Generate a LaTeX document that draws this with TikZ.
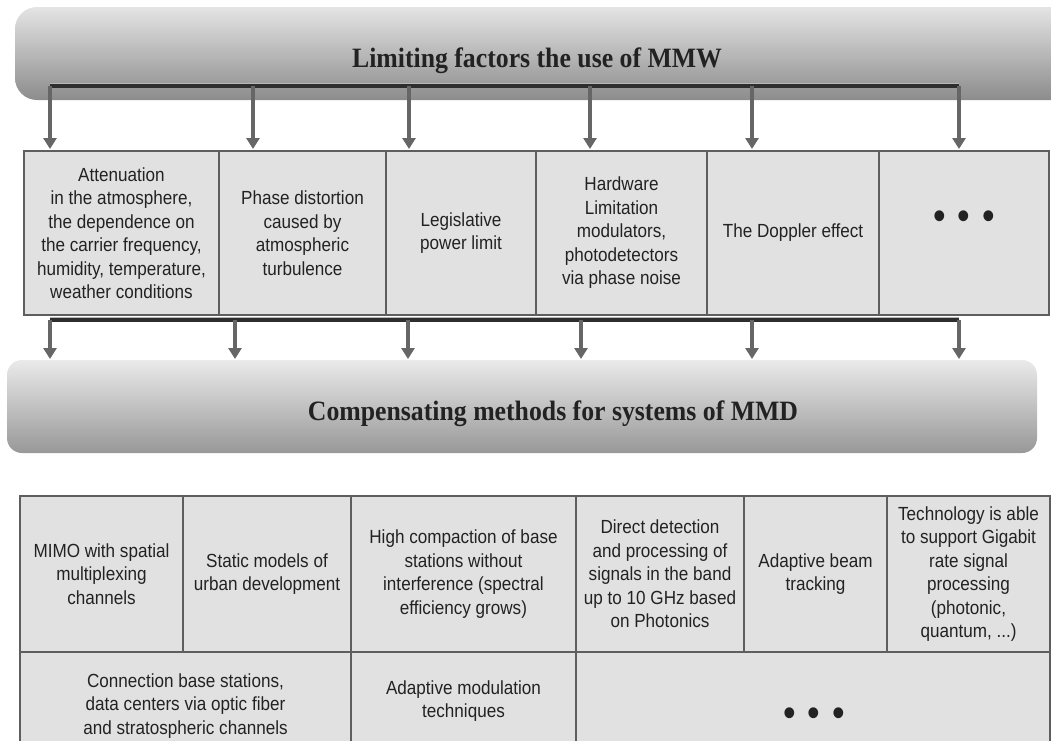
\documentclass[tikz,border=0pt]{standalone}
\usepackage{fontspec}
\setmainfont{Liberation Sans}[FakeStretch=0.9]
\newfontfamily\titlefont{Liberation Serif}[FakeStretch=0.92]
\usetikzlibrary{arrows.meta}
\definecolor{cellfill}{HTML}{E1E1E1}
\definecolor{cellline}{HTML}{5E5E5E}
\definecolor{arrowgray}{HTML}{666666}
\definecolor{bardark}{HTML}{2E2E2E}
\definecolor{barlight}{HTML}{B8B8B8}
\definecolor{txt}{HTML}{222222}
\definecolor{topbanlight}{HTML}{E4E4E4}
\definecolor{topbandark}{HTML}{8C8C8C}
\definecolor{midbanlight}{HTML}{EAEAEA}
\definecolor{midbandark}{HTML}{989898}
\begin{document}
\begin{tikzpicture}[x=1pt,y=-1pt,
  cell/.style={draw=cellline, fill=cellfill, line width=1.1pt, inner sep=2pt,
    outer sep=0pt, align=center, anchor=north west, text=txt,
    font=\fontsize{19}{23.5}\selectfont},
  banner/.style={shade, anchor=north west, inner sep=0pt, outer sep=0pt},
  bannertitle/.style={anchor=base, text=txt,
    font=\titlefont\bfseries\fontsize{28}{30}\selectfont},
  dots/.style={text=txt, inner sep=0pt, font=\fontsize{40}{40}\selectfont},
  arr/.style={draw=arrowgray, line width=3.2pt,
    -{Triangle[width=13pt,length=11pt]}},
  barline/.style={line width=4pt, bardark},
  barhigh/.style={line width=1.6pt, barlight}
]
\clip (0,0) rectangle (1051,740);

% ---------- top banner ----------
\node[banner, top color=topbanlight, bottom color=topbandark,
  rounded corners=22pt, minimum width=1080pt, minimum height=93pt]
  (limban) at (15,7) {};
\node[bannertitle] (limtitle) at (537,67) {Limiting factors the use of MMW};

% ---------- table 1 ----------
\node[cell, minimum width=195pt, minimum height=164pt] (t1) at (24,151)
  {Attenuation\\in the atmosphere,\\the dependence on\\the carrier frequency,\\humidity, temperature,\\weather conditions};
\node[cell, minimum width=167pt, minimum height=164pt] (t2) at (219,151)
  {Phase distortion\\caused by\\atmospheric\\turbulence};
\node[cell, minimum width=150pt, minimum height=164pt] (t3) at (386,151)
  {Legislative\\power limit};
\node[cell, minimum width=171pt, minimum height=164pt] (t4) at (536,151)
  {Hardware\\Limitation\\modulators,\\photodetectors\\via phase noise};
\node[cell, minimum width=172pt, minimum height=164pt] (t5) at (707,151)
  {The Doppler effect};
\node[cell, minimum width=170pt, minimum height=164pt] (t6) at (879,151) {};
\node[dots] (t6dots) at (964,220) {•\hspace{12pt}•\hspace{12pt}•};

% ---------- top bar and arrows ----------
\coordinate (a1) at (50,86);
\coordinate (a2) at (253,86);
\coordinate (a3) at (409,86);
\coordinate (a4) at (590,86);
\coordinate (a5) at (752,86);
\coordinate (a6) at (959,86);
\draw[barline] (a1) -- (a6);
\draw[barhigh] ([yshift=2.6pt]a1) -- ([yshift=2.6pt]a6);
\draw[arr, shorten >=2pt] (a1) -- (a1 |- t1.north);
\draw[arr, shorten >=2pt] (a2) -- (a2 |- t2.north);
\draw[arr, shorten >=2pt] (a3) -- (a3 |- t3.north);
\draw[arr, shorten >=2pt] (a4) -- (a4 |- t4.north);
\draw[arr, shorten >=2pt] (a5) -- (a5 |- t5.north);
\draw[arr, shorten >=2pt] (a6) -- (a6 |- t6.north);

% ---------- middle banner ----------
\node[banner, top color=midbanlight, bottom color=midbandark,
  rounded corners=15pt, minimum width=1030pt, minimum height=93pt]
  (compban) at (7,360) {};
\node[bannertitle] (comptitle) at (553,420) {Compensating methods for systems of MMD};

% ---------- lower bar and arrows ----------
\coordinate (b1) at (50,320);
\coordinate (b2) at (235,320);
\coordinate (b3) at (408,320);
\coordinate (b4) at (581,320);
\coordinate (b5) at (752,320);
\coordinate (b6) at (959,320);
\draw[barline] (b1) -- (b6);
\draw[barhigh] ([yshift=2.6pt]b1) -- ([yshift=2.6pt]b6);
\draw[arr, shorten >=1pt] (b1) -- (b1 |- compban.north);
\draw[arr, shorten >=1pt] (b2) -- (b2 |- compban.north);
\draw[arr, shorten >=1pt] (b3) -- (b3 |- compban.north);
\draw[arr, shorten >=1pt] (b4) -- (b4 |- compban.north);
\draw[arr, shorten >=1pt] (b5) -- (b5 |- compban.north);
\draw[arr, shorten >=1pt] (b6) -- (b6 |- compban.north);

% ---------- table 2, row 1 ----------
\node[cell, minimum width=163pt, minimum height=156pt] (c1) at (20,496)
  {MIMO with spatial\\multiplexing\\channels};
\node[cell, minimum width=168pt, minimum height=156pt] (c2) at (183,496)
  {Static models of\\urban development};
\node[cell, minimum width=225pt, minimum height=156pt] (c3) at (351,496)
  {High compaction of base\\stations without\\interference (spectral\\efficiency grows)};
\node[cell, minimum width=168pt, minimum height=156pt] (c4) at (576,496)
  {Direct detection\\and processing of\\signals in the band\\up to 10 GHz based\\on Photonics};
\node[cell, minimum width=143pt, minimum height=156pt] (c5) at (744,496)
  {Adaptive beam\\tracking};
\node[cell, minimum width=163pt, minimum height=156pt] (c6) at (887,496)
  {Technology is able\\to support Gigabit\\rate signal\\processing\\(photonic,\\quantum, ...)};

% ---------- table 2, row 2 ----------
\node[cell, minimum width=331pt, minimum height=108pt] (d1) at (20,652)
  {Connection base stations,\\data centers via optic fiber\\and stratospheric channels};
\node[cell, minimum width=225pt, minimum height=98pt] (d2) at (351,652)
  {Adaptive modulation\\techniques};
\node[cell, minimum width=474pt, minimum height=116pt] (d3) at (576,652) {};
\node[dots] (d3dots) at (814,717) {•\hspace{12pt}•\hspace{12pt}•};
\end{tikzpicture}
\end{document}
